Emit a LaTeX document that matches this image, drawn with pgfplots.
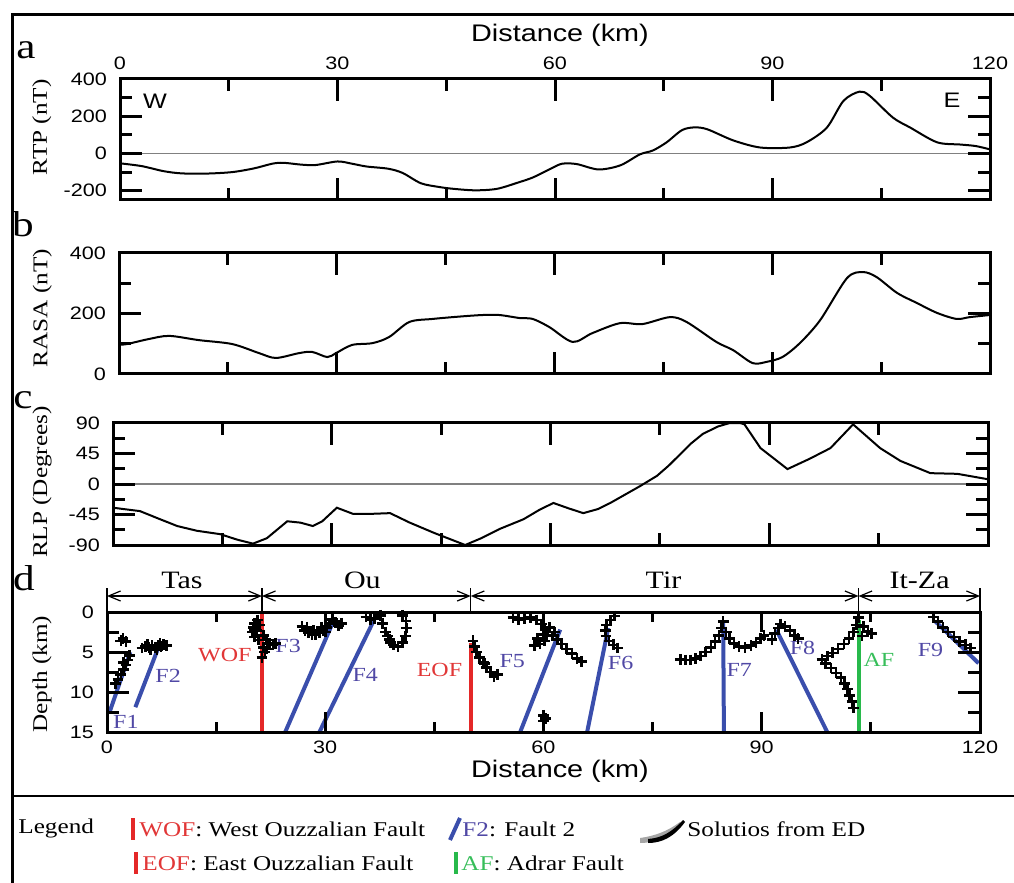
\documentclass[border=0pt]{standalone}
\usepackage{pgfplots}
\pgfplotsset{compat=1.18}
\usepackage{fontspec}
\setmainfont{Liberation Serif}[FakeStretch=1.2]
\setsansfont{Liberation Sans}[FakeStretch=1.2]
\usetikzlibrary{arrows.meta}
\definecolor{fred}{RGB}{228,40,40}
\definecolor{fblue}{RGB}{58,78,172}
\definecolor{fgreen}{RGB}{40,185,75}
\definecolor{lblue}{RGB}{80,72,165}
\definecolor{lred}{RGB}{225,55,55}
\definecolor{lgreen}{RGB}{55,190,90}
\tikzset{tk/.style={line width=1.5pt, black, line cap=butt}}

\pgfplotsset{
  panel/.style={
    scale only axis, anchor=south west, xmin=0, xmax=120, clip=false,
    tick align=inside,
    major tick length=0pt, minor tick length=0pt,
    xtick={0,30,60,90,120},
    /pgf/number format/assume math mode=true,
    tick label style={font=\sffamily\fontsize{9}{10}\selectfont},
    yticklabel style={xshift=-3pt},
    xticklabel style={yshift=-1pt},
    every axis y label/.style={rotate=90, anchor=center, font=\fontsize{10.5}{12}\selectfont},
  },
  curve/.style={black, line width=1pt},
}

\begin{document}
\begin{tikzpicture}
\path[use as bounding box] (0,0) rectangle (507pt,-441.5pt);

% ---------- panel a ----------
\begin{axis}[panel, at={(60pt,-100pt)}, width=435pt, height=60.5pt,
  ymin=-250, ymax=400, ytick={-200,0,200,400},
  xticklabel pos=upper, xticklabel style={yshift=2pt},
  ylabel={RTP (nT)}, ylabel style={at={(axis description cs:-0.09,0.6)}}]
\addplot[gray, line width=0.8pt] coordinates {(0,0) (120,0)};
\addplot[curve, smooth] coordinates {
(0,-53) (3,-68) (6,-95) (8.5,-107) (12,-108) (15.5,-100) (18.5,-80) (21,-55)
(22.5,-50) (25,-60) (27,-62) (30,-43) (32,-55) (34,-70) (37,-82) (39,-105)
(41.5,-160) (44,-180) (46,-190) (49,-198) (52,-190) (55,-155) (57,-128)
(59.5,-80) (61,-55) (63,-57) (66,-86) (69,-64) (71.7,-5) (73.5,16) (75.4,60)
(77.5,125) (79.2,140) (81,130) (84.6,70) (88.3,32) (92.4,32) (94.7,60) (97.5,139)
(99.8,283) (102,332) (103.4,310) (106.6,193) (109,139) (112.7,60) (115.9,48)
(118,40) (120,22)};
\end{axis}

% ---------- panel b ----------
\begin{axis}[panel, at={(59.5pt,-187pt)}, width=435.5pt, height=60.5pt,
  ymin=0, ymax=400, ytick={0,200,400},
  xticklabels={},
  ylabel={RASA (nT)}, ylabel style={at={(axis description cs:-0.088,0.545)}}]
\addplot[curve, smooth] coordinates {
(0,97) (1.1,99) (4,115) (6.9,126) (11,112) (15.6,99) (19.3,69) (21.6,53)
(24.8,69) (26.6,73) (28.7,56) (29.9,69) (32.1,96) (34.9,102) (37.2,122)
(40,172) (43.2,182) (47,190) (50.1,195) (52.4,195) (55.2,185) (57,182)
(59.3,155) (62.5,106) (65.2,135) (69,168) (72.1,165) (75.9,188) (78.2,172)
(82.3,106) (84.6,79) (87.3,36) (89.2,40) (91.4,56) (93.8,102) (96.6,178)
(100.3,317) (102.5,337) (104.4,320) (107.2,268) (109.9,235) (112.7,202)
(115.4,182) (117.2,188) (120,195)};
\end{axis}

% ---------- panel c ----------
\begin{axis}[panel, at={(56.5pt,-272.5pt)}, width=437.5pt, height=61pt,
  ymin=-90, ymax=90, ytick={-90,-45,0,45,90},
  xticklabels={},
  ylabel={RLP (Degrees)}, ylabel style={at={(axis description cs:-0.081,0.516)}}]
\addplot[gray, line width=0.8pt] coordinates {(0,0) (120,0)};
\addplot[curve] coordinates {
(0,-35) (3.7,-40) (6,-50) (8.8,-62) (11.5,-69) (14.7,-74) (17,-82) (19.2,-88)
(21.1,-80) (23.9,-55) (25.7,-57) (27.4,-62) (28.7,-55) (30.7,-35) (32.9,-44)
(35.5,-44) (38,-43) (40.7,-57) (44,-72) (48.3,-90) (50.5,-80) (53.1,-66)
(56.3,-52) (58.5,-38) (60.4,-28) (62.5,-36) (64.5,-43) (66.5,-37) (68.2,-28)
(72.3,-3) (74.6,12) (76.2,27) (77.8,44) (79.3,60) (80.9,74) (83,85) (84.6,90)
(86,90) (86.6,88) (88.8,53) (92.5,22) (95.5,37) (98.4,53) (101.5,88)
(105.2,53) (108,34) (112.1,16) (115.8,15) (120,7)};
\end{axis}

% ---------- panel d ----------
\begin{axis}[panel, at={(53.5pt,-366pt)}, width=436.5pt, height=60pt,
  ymin=0, ymax=15, y dir=reverse, ytick={0,5,10,15},
  ylabel={Depth (km)}, ylabel style={at={(axis description cs:-0.0745,0.48)}}]
% ED solutions
\addplot[only marks, mark=+, mark size=2.7pt, black, line width=1.3pt] coordinates {
(2.2,3.3) (2.6,3.7) (1.9,3.6) (3.1,5.4) (2.9,6.0) (2.6,6.6) (2.3,7.2) (1.9,7.8) (1.5,8.4) (2.3,6.3) (1.2,8.9)
(4.8,4.5) (5.3,4.3) (5.8,4.4) (6.2,4.2) (6.6,4.4) (7.0,4.2) (7.4,4.3) (7.8,4.1) (8.2,4.2) (6.0,4.7) (6.9,4.7) (7.3,3.9) (5.6,4.1)
(20.3,1.4) (20.1,1.9) (20.0,2.5) (20.3,3.1) (20.8,3.5) (20.7,1.0) (21.0,1.6) (20.6,2.3) (21.5,2.9) (21.9,3.5) (22.3,3.9) (22.8,4.1) (23.2,3.9) (21.5,4.4) (21.7,5.0) (21.3,5.7) (22.0,4.6) (20.2,2.2)
(26.8,1.8) (27.2,2.3) (27.7,2.6) (28.2,2.8) (28.7,2.8) (29.2,2.6) (29.7,2.3) (30.2,1.9) (30.6,1.4) (31.0,0.9) (31.4,1.3) (31.8,1.7) (32.2,1.4) (27.5,1.9) (28.4,2.3) (29.5,1.9) (30.0,2.5)
(35.6,0.6) (36.2,0.9) (36.8,0.8) (37.6,0.4) (37.9,1.4) (38.3,2.5) (38.8,3.4) (39.4,4.1) (40.0,4.3) (40.6,3.8) (41.0,3.0) (41.2,2.0) (41.1,1.1) (40.6,0.4) (38.6,3.0) (39.0,3.8)
(50.3,3.6) (50.5,4.3) (50.8,5.0) (51.2,5.7) (51.7,6.3) (52.2,6.9) (52.7,7.5) (53.2,8.1) (53.7,7.8) (51.9,6.4)
(55.8,0.7) (56.6,0.9) (57.4,0.8) (58.2,0.7) (59.0,1.0) (59.7,1.5) (60.2,2.2) (60.5,2.9) (60.1,3.6) (59.5,4.0) (58.8,4.2) (61.2,3.0) (61.9,3.4) (62.5,4.0) (63.2,4.6) (63.9,5.2) (64.6,5.8) (65.2,6.2) (59.2,3.3) (60.8,1.9) (61.5,2.5) (60.0,2.8)
(60.0,12.9) (60.0,13.6) (60.3,13.3)
(69.8,0.5) (69.2,1.0) (68.7,1.6) (68.5,2.3) (68.6,3.0) (69.0,3.6) (69.6,4.1) (70.2,4.5)
(78.8,5.9) (79.5,6.0) (80.2,6.0) (80.9,5.8) (81.6,5.5) (82.3,5.0) (83.0,4.4) (83.6,3.7) (84.1,2.9) (84.5,2.0) (84.7,1.2) (85.1,2.5) (85.6,3.3) (86.2,3.9) (86.9,4.3) (87.7,4.4) (88.5,4.2) (89.2,3.8) (89.8,3.3) (90.3,2.9)
(91.4,3.4) (91.8,2.7) (92.3,2.0) (92.6,1.5) (93.2,1.8) (93.9,2.3) (94.5,2.9) (95.0,3.3)
(103.3,0.7) (103.0,1.6) (102.6,2.5) (102.0,3.3) (101.3,4.0) (100.5,4.6) (99.7,5.1) (99.0,5.5) (98.3,5.9) (98.8,6.4) (99.5,7.0) (100.2,7.6) (100.9,8.2) (101.4,8.9) (101.8,9.6) (102.1,10.4) (102.4,11.2) (102.6,12.0) (104.0,1.8) (104.6,2.4) (105.1,2.7) (103.8,3.0)
(113.6,0.6) (114.2,1.2) (114.9,1.9) (115.6,2.5) (116.4,3.1) (117.2,3.7) (118.0,4.1) (118.7,4.5)
};
% faults
\addplot[fblue, line width=2pt] coordinates {(0.4,12.4) (3.2,5.0)};
\addplot[fblue, line width=2pt] coordinates {(3.9,11.9) (7.0,4.6)};
\addplot[fred, line width=2pt] coordinates {(21.3,0.2) (21.3,15)};
\addplot[fblue, line width=2pt] coordinates {(24.5,15) (31.1,1.2)};
\addplot[fblue, line width=2pt] coordinates {(29.2,15) (36.6,1.2)};
\addplot[fred, line width=2pt] coordinates {(50.0,3.9) (50.0,15)};
\addplot[fblue, line width=2pt] coordinates {(56.8,15) (62.3,2.2)};
\addplot[fblue, line width=2pt] coordinates {(66.0,15) (68.9,2.0)};
\addplot[fblue, line width=2pt] coordinates {(84.7,1.2) (84.8,15)};
\addplot[fblue, line width=2pt] coordinates {(92.0,2.2) (99.0,15)};
\addplot[fgreen, line width=2pt] coordinates {(103.3,1.0) (103.3,15)};
\addplot[fblue, line width=2pt] coordinates {(113.9,1.2) (119.8,6.4)};
% fault labels
\node[lblue, font=\fontsize{10}{11}\selectfont] at (axis cs:2.6,13.75) {F1};
\node[lblue, font=\fontsize{10}{11}\selectfont] at (axis cs:8.4,8.0) {F2};
\node[lred, font=\fontsize{10}{11}\selectfont] at (axis cs:16.2,5.4) {WOF};
\node[lblue, font=\fontsize{10}{11}\selectfont] at (axis cs:24.9,4.3) {F3};
\node[lblue, font=\fontsize{10}{11}\selectfont] at (axis cs:35.5,7.9) {F4};
\node[lred, font=\fontsize{10}{11}\selectfont] at (axis cs:45.7,7.25) {EOF};
\node[lblue, font=\fontsize{10}{11}\selectfont] at (axis cs:55.7,6.1) {F5};
\node[lblue, font=\fontsize{10}{11}\selectfont] at (axis cs:70.6,6.4) {F6};
\node[lblue, font=\fontsize{10}{11}\selectfont] at (axis cs:86.9,7.25) {F7};
\node[lblue, font=\fontsize{10}{11}\selectfont] at (axis cs:95.6,4.5) {F8};
\node[lgreen, font=\fontsize{10}{11}\selectfont] at (axis cs:106.1,6.0) {AF};
\node[lblue, font=\fontsize{10}{11}\selectfont] at (axis cs:113.2,4.75) {F9};
% terrane header
\draw[line width=0.7pt] (axis cs:0,-3.0) -- (axis cs:0,0);
\draw[line width=0.7pt] (axis cs:21.3,-3.0) -- (axis cs:21.3,0);
\draw[line width=0.7pt] (axis cs:50,-3.0) -- (axis cs:50,0);
\draw[line width=0.7pt] (axis cs:103.3,-3.0) -- (axis cs:103.3,0);
\draw[line width=0.7pt] (axis cs:120,-3.0) -- (axis cs:120,0);
\draw[line width=0.6pt, {Straight Barb[length=6pt,width=5pt]}-{Straight Barb[length=6pt,width=5pt]}] (axis cs:0,-2) -- (axis cs:21.3,-2);
\draw[line width=0.6pt, {Straight Barb[length=6pt,width=5pt]}-{Straight Barb[length=6pt,width=5pt]}] (axis cs:21.3,-2) -- (axis cs:50,-2);
\draw[line width=0.6pt, {Straight Barb[length=6pt,width=5pt]}-{Straight Barb[length=6pt,width=5pt]}] (axis cs:50,-2) -- (axis cs:103.3,-2);
\draw[line width=0.6pt, {Straight Barb[length=6pt,width=5pt]}-{Straight Barb[length=6pt,width=5pt]}] (axis cs:103.3,-2) -- (axis cs:120,-2);
\node[font=\fontsize{12.5}{14}\selectfont, anchor=base, inner sep=0pt] at (axis cs:10.3,-2.9) {Tas};
\node[font=\fontsize{12.5}{14}\selectfont, anchor=base, inner sep=0pt] at (axis cs:35.1,-2.9) {Ou};
\node[font=\fontsize{12.5}{14}\selectfont, anchor=base, inner sep=0pt] at (axis cs:76.5,-2.9) {Tir};
\node[font=\fontsize{12.5}{14}\selectfont, anchor=base, inner sep=0pt] at (axis cs:111.7,-2.9) {It-Za};
\end{axis}

% ---------- frames, ticks and annotations in pixel units ----------
\begin{scope}[x=0.5pt, y=-0.5pt]
% panel a frame and ticks
\draw[tk] (120,79) rectangle (990,200);
\foreach \X in {337.5,555,772.5}{\draw[tk] (\X,200) -- (\X,178); \draw[tk] (\X,79) -- (\X,101);}
\foreach \X in {228.75,446.25,663.75,881.25}{\draw[tk] (\X,200) -- (\X,188); \draw[tk] (\X,79) -- (\X,91);}
\foreach \Y in {190.7,153.5,116.2}{\draw[tk] (120,\Y) -- (142,\Y); \draw[tk] (990,\Y) -- (968,\Y);}
\foreach \Y in {172.1,134.8,97.6}{\draw[tk] (120,\Y) -- (132,\Y); \draw[tk] (990,\Y) -- (978,\Y);}
% panel b
\draw[tk] (119,253) rectangle (990,374);
\foreach \X in {336.75,554.5,772.25}{\draw[tk] (\X,374) -- (\X,352); \draw[tk] (\X,253) -- (\X,275);}
\foreach \X in {227.9,445.6,663.4,881.1}{\draw[tk] (\X,374) -- (\X,362); \draw[tk] (\X,253) -- (\X,265);}
\foreach \Y in {313.5}{\draw[tk] (119,\Y) -- (141,\Y); \draw[tk] (990,\Y) -- (968,\Y);}
\foreach \Y in {343.75,283.25}{\draw[tk] (119,\Y) -- (131,\Y); \draw[tk] (990,\Y) -- (978,\Y);}
% panel c
\draw[tk] (113,423) rectangle (988,545);
\foreach \X in {331.75,550.5,769.25}{\draw[tk] (\X,545) -- (\X,523); \draw[tk] (\X,423) -- (\X,445);}
\foreach \X in {222.4,441.1,659.9,878.6}{\draw[tk] (\X,545) -- (\X,533); \draw[tk] (\X,423) -- (\X,435);}
\foreach \Y in {514.5,484,453.5}{\draw[tk] (113,\Y) -- (135,\Y); \draw[tk] (988,\Y) -- (966,\Y);}
\foreach \Y in {529.75,499.25,468.75,438.25}{\draw[tk] (113,\Y) -- (125,\Y); \draw[tk] (988,\Y) -- (976,\Y);}
% panel d
\draw[tk] (107,612) rectangle (980,732);
\foreach \X in {325.25,543.5,761.75}{\draw[tk] (\X,732) -- (\X,712); \draw[tk] (\X,612) -- (\X,632);}
\foreach \X in {216.1,434.4,652.6,870.9}{\draw[tk] (\X,732) -- (\X,722); \draw[tk] (\X,612) -- (\X,622);}
\foreach \Y in {652,692}{\draw[tk] (107,\Y) -- (129,\Y); \draw[tk] (980,\Y) -- (958,\Y);}
\foreach \Y in {632,672,712}{\draw[tk] (107,\Y) -- (119,\Y); \draw[tk] (980,\Y) -- (968,\Y);}
% outer frame
\draw[line width=1.5pt] (12,883) -- (12,15) -- (1014,15);
\draw[line width=1.2pt] (12,796) -- (1014,796);
\node[font=\sffamily\fontsize{12}{14}\selectfont] at (560,35) {Distance (km)};
\node[font=\sffamily\fontsize{12}{14}\selectfont] at (560,771) {Distance (km)};
\node[font=\fontsize{18}{20}\selectfont] at (26,50) {a};
\node[font=\fontsize{18}{20}\selectfont] at (23,224) {b};
\node[font=\fontsize{18}{20}\selectfont] at (23,400) {c};
\node[font=\fontsize{18}{20}\selectfont] at (24,578) {d};
\node[font=\sffamily\fontsize{10.5}{12}\selectfont] at (155,101) {W};
\node[font=\sffamily\fontsize{10.5}{12}\selectfont] at (952,100) {E};
% legend
\begin{scope}[font=\fontsize{10.5}{12}\selectfont]
\node[anchor=west, inner sep=0pt] at (18,828) {Legend};
\draw[fred, line width=2pt] (133,818) -- (133,840);
\node[anchor=west, inner sep=0pt] at (139,829) {\textcolor{lred}{WOF}: West Ouzzalian Fault};
\draw[fblue, line width=2pt] (450,840) -- (460,818);
\node[anchor=west, inner sep=0pt] at (462,829) {\textcolor{lblue}{F2}: Fault 2};
\fill[gray!70] (640,838) .. controls (655,836) and (668,831) .. (680,822) -- (682,825) .. controls (670,836) and (656,843) .. (640,843) -- cycle;
\fill[black] (648,839) .. controls (662,838) and (672,832) .. (683,820) -- (685,822) .. controls (674,837) and (662,843) .. (648,843) -- cycle;
\node[anchor=west, inner sep=0pt] at (687,829) {Solutios from ED};
\draw[fred, line width=2pt] (136,852) -- (136,874);
\node[anchor=west, inner sep=0pt] at (142,863) {\textcolor{lred}{EOF}: East Ouzzalian Fault};
\draw[fgreen, line width=2pt] (456,852) -- (456,874);
\node[anchor=west, inner sep=0pt] at (461,863) {\textcolor{lgreen}{AF}: Adrar Fault};
\end{scope}
\end{scope}
\end{tikzpicture}
\end{document}
